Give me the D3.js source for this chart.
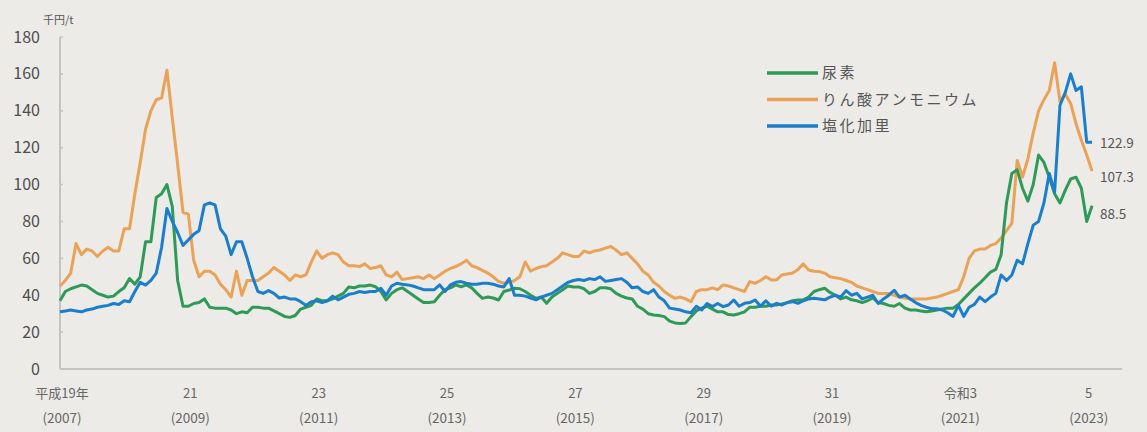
<!DOCTYPE html>
<html>
<head>
<meta charset="utf-8">
<script src="https://cdn.jsdelivr.net/npm/d3@7"></script>
<style>
	body { margin: 0; background: #edece8; }
	text { font-family: "Noto Sans CJK JP", "Noto Sans", sans-serif; }
</style>
</head>
<body>
<script>
// monthly import prices (thousand yen / t), Jan 2007 .. Feb 2023
var urea = [
	37, 42, 43.5, 44.5, 45.5, 45, 43, 41, 40, 39, 39.5, 42,
	44, 49, 46, 50, 69, 69, 93, 95, 100, 88, 48, 34,
	34, 35.5, 36, 38, 33.5, 33, 33, 33, 32, 30, 31, 30.5,
	33.5, 33.5, 33, 33, 31.5, 30, 28.5, 28, 29, 32.5, 33.5, 34.5,
	38, 37, 37, 38, 39.5, 41, 44.5, 44, 45, 45, 45.5, 44.6,
	42, 37.5, 41, 43, 44, 42, 40, 38, 36, 36, 36.5, 40,
	43, 44, 45.6, 44.6, 45.6, 44, 41, 38.3, 39, 38.5, 37.4, 42,
	42.8, 43.8, 43.5, 42, 40, 38.3, 39, 35.6, 39, 41, 43, 45,
	44.5, 44.5, 43.5, 41, 42, 44, 44, 43.5, 41, 39.5, 38.5, 38,
	34, 32.5, 30, 29.3, 29, 28.4, 26, 25, 24.7, 25, 28.4, 31.5,
	33, 34, 32.5, 31, 31, 29.5, 29.3, 30, 31, 33.5, 33.5, 34,
	34, 34.7, 34.7, 35.3, 36, 37, 37.4, 37.5, 39, 42, 43, 43.8,
	41.5, 40, 38, 39, 37.5, 37, 36, 37, 38.5, 36, 35.5, 34.5,
	34, 35.5, 33, 32, 32, 31.5, 31, 31.5, 32, 32.5, 33, 33,
	35, 38, 41, 44, 46.5, 49.5, 52.5, 54, 62, 90, 106, 108,
	98, 91, 100, 116, 112, 104, 95, 90, 97, 103, 104, 98, 80, 88.5
];
var dap = [
	45, 48, 52, 68, 62, 65, 64, 61, 64, 66, 64, 64,
	76, 76, 95, 112, 130, 140, 146, 147, 162, 136, 111, 85,
	84, 59, 50, 53, 53, 51, 46, 43, 39, 53, 40, 48,
	48, 48, 50, 52, 55, 53, 51, 48, 51, 50, 51, 58,
	64, 60, 62, 63, 62, 58, 56, 56, 55.5, 57, 54.5, 55,
	56, 51, 50, 52.5, 48.5, 49, 49.5, 50, 49, 51, 49, 51,
	53, 54.5, 55.5, 57, 59, 56, 55, 53.5, 52, 50, 47.5, 46.5,
	47, 48, 50, 58, 53, 54.5, 55.5, 56, 58, 60, 63, 62,
	61, 61, 64, 63, 64, 64.5, 65.5, 66.4, 64.5, 62, 63, 60,
	57, 53, 51, 47, 45, 42, 40, 38.3, 39, 38, 36.5, 42,
	43, 43, 44, 43, 45.6, 45, 44, 43, 42, 47.4, 46.5, 48,
	50, 48.3, 48.3, 51, 51.5, 52, 54, 57, 53.7, 53, 52.8, 52,
	50, 49.5, 49, 48, 47, 45, 44, 43, 42, 41, 41, 41,
	40, 39, 38.5, 38, 38, 38, 38, 38.5, 39, 40, 41, 42,
	43, 50, 60, 64, 65, 65, 67, 68, 71, 75, 79, 113,
	104, 114, 128, 140, 146, 151, 166, 145, 149, 144, 133, 124, 116, 107.3
];
var potash = [
	31, 31.5, 32, 31.5, 31, 32, 32.5, 33.5, 34, 34.5, 35.5, 35,
	37, 36.5, 42, 47, 45.5, 48, 52, 66, 87, 80, 74, 67,
	70, 73, 75, 89, 90, 89, 76, 72, 62, 69, 69, 60,
	50, 42, 41, 42.5, 41, 38.5, 39, 38, 38, 36.5, 34.5, 36.5,
	37, 36, 37, 39.5, 37.5, 39, 40.5, 41, 42, 41.5, 42, 42,
	43.8, 40, 45, 46.5, 46, 45.6, 45, 44, 43, 43, 43, 45.6,
	42, 45.6, 47, 47.4, 46.5, 46, 46, 46.5, 46.5, 46, 45, 44.5,
	49, 40, 40, 39.5, 38.5, 37.5, 39, 40, 41, 43, 45, 47,
	48, 48.5, 48, 49, 48.5, 50, 47.5, 48, 48.5, 49, 47, 44,
	44.5, 42, 41, 43, 39, 37, 33, 32.5, 32, 31, 30.5, 34,
	32, 35.5, 33.8, 35.5, 33.8, 34.7, 37.4, 34, 35.6, 36, 37.4, 34,
	37, 34, 35.6, 34.7, 36, 36.5, 35.6, 37, 38, 38.3, 38, 37.5,
	39, 40, 39, 42.5, 40, 41, 38, 39, 40, 35.5, 38, 40,
	42.7, 39, 40, 38, 36, 34.5, 33.5, 32.7, 32.7, 32, 30.5, 28.5,
	34.5, 28.5, 33.5, 35, 39, 36.5, 39, 41, 51, 48, 51, 59,
	57, 68, 78, 80, 90, 106, 96, 143, 150, 160, 151, 153, 123, 122.9
];

var seriesNames = ["尿素", "りん酸アンモニウム", "塩化加里"];
var seriesColors = ["#2f9a57", "#e9a257", "#1b7ecb"];
var endLabels = ["88.5", "107.3", "122.9"];

var yTicks = [0, 20, 40, 60, 80, 100, 120, 140, 160, 180];
var xTickMonths = [0, 24, 48, 72, 96, 120, 144, 168, 192];
var xTickEra = ["平成19年", "21", "23", "25", "27", "29", "31", "令和3", "5"];
var xTickYear = ["(2007)", "(2009)", "(2011)", "(2013)", "(2015)", "(2017)", "(2019)", "(2021)", "(2023)"];

var width = 1147, height = 432;
var margin = {top: 37, right: 25, bottom: 63, left: 60};

var svg = d3.select("body").append("svg")
	.attr("width", width)
	.attr("height", height);

svg.append("rect")
	.attr("width", width)
	.attr("height", height)
	.attr("fill", "#ecebe7");

var x = d3.scaleLinear()
	.domain([0, 198.6])
	.range([margin.left, width - margin.right]);
var y = d3.scaleLinear()
	.domain([0, 180])
	.range([height - margin.bottom, margin.top]);

// axes
svg.append("line")
	.attr("x1", x(0)).attr("x2", x(0))
	.attr("y1", y(0)).attr("y2", y(180))
	.attr("stroke", "#c4c4c2").attr("stroke-width", 2);
svg.append("line")
	.attr("x1", x(0)).attr("x2", x.range()[1])
	.attr("y1", y(0)).attr("y2", y(0))
	.attr("stroke", "#c4c4c2").attr("stroke-width", 2);

svg.selectAll(".ytick")
	.data(yTicks)
	.enter().append("line")
	.attr("class", "ytick")
	.attr("x1", x(0)).attr("x2", x(0) + 3)
	.attr("y1", function(d) { return y(d); })
	.attr("y2", function(d) { return y(d); })
	.attr("stroke", "#c4c4c2").attr("stroke-width", 1.5);

svg.selectAll(".ylabel")
	.data(yTicks)
	.enter().append("text")
	.attr("class", "ylabel")
	.attr("x", 40)
	.attr("y", function(d) { return y(d); })
	.attr("dy", "0.35em")
	.attr("text-anchor", "end")
	.attr("fill", "#4e4e4e")
	.style("font-size", "16px")
	.text(function(d) { return d; });

svg.append("text")
	.attr("x", 43)
	.attr("y", 20)
	.attr("dy", "0.35em")
	.attr("fill", "#555")
	.style("font-size", "11px")
	.text("千円/t");

svg.selectAll(".xera")
	.data(xTickMonths)
	.enter().append("text")
	.attr("class", "xera")
	.attr("x", function(d) { return x(d) + 2; })
	.attr("y", 393)
	.attr("dy", "0.35em")
	.attr("text-anchor", "middle")
	.attr("fill", "#666")
	.style("font-size", "13px")
	.text(function(d, i) { return xTickEra[i]; });

svg.selectAll(".xyear")
	.data(xTickMonths)
	.enter().append("text")
	.attr("class", "xyear")
	.attr("x", function(d) { return x(d) + 2; })
	.attr("y", 418)
	.attr("dy", "0.35em")
	.attr("text-anchor", "middle")
	.attr("fill", "#666")
	.style("font-size", "13.5px")
	.text(function(d, i) { return xTickYear[i]; });

// lines: orange under, blue on top
var line = d3.line()
	.x(function(d, i) { return x(i); })
	.y(function(d) { return y(d); });

var allSeries = [urea, dap, potash];
var drawOrder = [1, 0, 2];
drawOrder.forEach(function(k) {
	svg.append("path")
		.datum(allSeries[k])
		.attr("fill", "none")
		.attr("stroke", seriesColors[k])
		.attr("stroke-width", 3)
		.attr("stroke-linejoin", "round")
		.attr("d", line);
});

// end value labels (nudged apart)
var endNudge = [9, 6, 1];
allSeries.forEach(function(s, k) {
	var last = s.length - 1;
	svg.append("text")
		.attr("x", x(last) + 8)
		.attr("y", y(s[last]) + endNudge[k])
		.attr("dy", "0.35em")
		.attr("fill", "#555")
		.style("font-size", "13.5px")
		.text(endLabels[k]);
});

// legend
var legend = svg.selectAll(".legend")
	.data(seriesNames)
	.enter().append("g")
	.attr("class", "legend")
	.attr("transform", function(d, i) {
		return "translate(767," + (73 + i * 26.5) + ")";
	});
legend.append("line")
	.attr("x1", 0).attr("x2", 51)
	.attr("stroke", function(d, i) { return seriesColors[i]; })
	.attr("stroke-width", 3.5);
legend.append("text")
	.attr("x", 55)
	.attr("dy", "0.35em")
	.attr("fill", "#555")
	.style("font-size", "15px")
	.style("letter-spacing", "2.5px")
	.text(function(d) { return d; });
</script>
</body>
</html>
